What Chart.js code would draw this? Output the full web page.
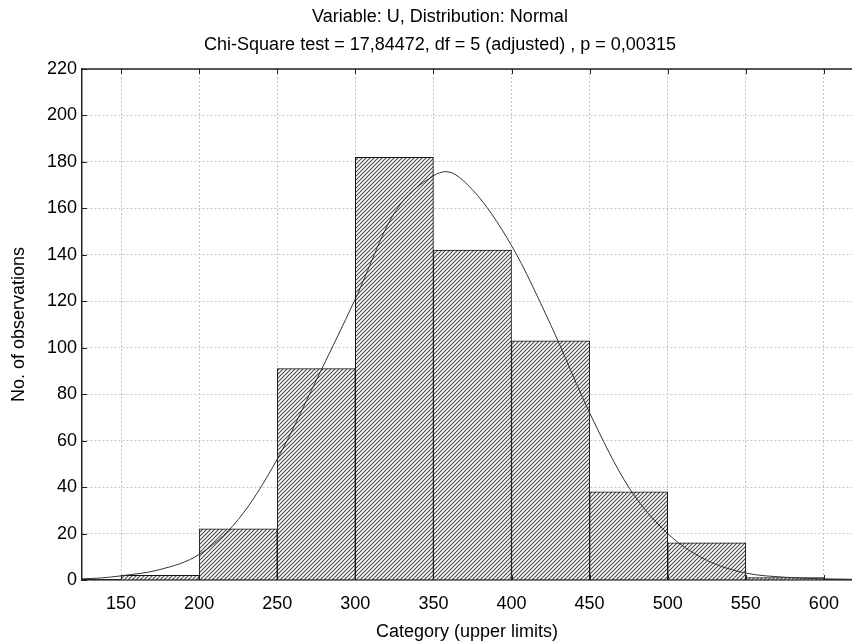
<!DOCTYPE html>
<html>
<head>
<meta charset="utf-8">
<script src="https://cdn.jsdelivr.net/npm/chart.js@4.4.1/dist/chart.umd.min.js"></script>
<style>
  html, body { margin: 0; padding: 0; background: #fff; }
  #wrap { width: 852px; height: 644px; position: relative; }
</style>
</head>
<body>
<div id="wrap"><canvas id="c" width="852" height="644"></canvas></div>
<script>
// ---- data ----
const titleLines = ["Variable: U, Distribution: Normal", "Chi-Square test = 17,84472, df = 5 (adjusted) , p = 0,00315"];
const xAxisTitle = "Category (upper limits)";
const yAxisTitle = "No. of observations";
const binCenters = [175, 225, 275, 325, 375, 425, 475, 525, 575];
const binCounts  = [2, 22, 91, 182, 142, 103, 38, 16, 1];
const curveX = [125, 137.5, 150, 175, 200, 225, 250, 275, 300, 325, 350, 358, 375, 400, 425, 450, 475, 500, 525, 550, 575, 600, 618];
const curveY = [0.5, 0.9, 1.8, 4.5, 11, 26, 52, 86, 121, 158, 174, 175.8, 168, 144, 110, 72, 40, 20, 8.5, 3, 1.2, 0.5, 0.3];
const xTickValues = [150, 200, 250, 300, 350, 400, 450, 500, 550, 600];

const FONT = "'Liberation Sans', Arial, sans-serif";

function makeHatch(ctx) {
  const c = document.createElement('canvas');
  c.width = 4; c.height = 4;
  const g = c.getContext('2d');
  g.fillStyle = '#ffffff';
  g.fillRect(0, 0, 4, 4);
  g.strokeStyle = '#4a4a4a';
  g.lineWidth = 1.1;
  g.beginPath();
  g.moveTo(-1, 5); g.lineTo(5, -1);
  g.moveTo(-1, 1); g.lineTo(1, -1);
  g.moveTo(3, 5); g.lineTo(5, 3);
  g.stroke();
  return ctx.createPattern(c, 'repeat');
}

const canvas = document.getElementById('c');
const ctx = canvas.getContext('2d');
const hatch = makeHatch(ctx);

const framePlugin = {
  id: 'frame',
  afterDatasetsDraw(chart) {
    const { ctx, chartArea: a, scales: { x, y } } = chart;
    ctx.save();
    ctx.strokeStyle = '#222';
    ctx.lineWidth = 1;
    ctx.beginPath();
    xTickValues.forEach(v => {
      const px = Math.round(x.getPixelForValue(v)) + 0.5;
      ctx.moveTo(px, a.bottom); ctx.lineTo(px, a.bottom - 5);
      ctx.moveTo(px, a.top); ctx.lineTo(px, a.top + 5);
    });
    y.ticks.forEach(t => {
      const py = Math.round(y.getPixelForValue(t.value)) + 0.5;
      ctx.moveTo(a.left, py); ctx.lineTo(a.left + 5, py);
    });
    ctx.stroke();
    ctx.lineWidth = 1.5;
    ctx.beginPath();
    ctx.moveTo(a.left, a.top); ctx.lineTo(a.right, a.top);
    ctx.stroke();
    ctx.restore();
  }
};

const titlePlugin = {
  id: 'twoLineTitle',
  afterDraw(chart) {
    const { ctx } = chart;
    ctx.save();
    ctx.fillStyle = '#000';
    ctx.font = '18px ' + FONT;
    ctx.textAlign = 'center';
    ctx.textBaseline = 'middle';
    const cx = 440;
    ctx.fillText(titleLines[0], cx, 17);
    ctx.fillText(titleLines[1], cx, 45);
    ctx.restore();
  }
};

new Chart(ctx, {
  type: 'bar',
  data: {
    datasets: [
      {
        type: 'line',
        data: curveX.map((v, i) => ({ x: v, y: curveY[i] })),
        borderColor: '#333',
        borderWidth: 1,
        pointRadius: 0,
        cubicInterpolationMode: 'monotone',
        fill: false,
        order: 0
      },
      {
        type: 'bar',
        data: binCenters.map((v, i) => ({ x: v, y: binCounts[i] })),
        backgroundColor: hatch,
        borderColor: '#111',
        borderWidth: 1,
        barPercentage: 1,
        categoryPercentage: 1,
        order: 1
      }
    ]
  },
  options: {
    responsive: false,
    animation: false,
    events: [],
    layout: { padding: { top: 69, right: 0, bottom: 0, left: 0 } },
    plugins: { legend: { display: false }, tooltip: { enabled: false }, title: { display: false } },
    scales: {
      x: {
        type: 'linear',
        offset: false,
        min: 125,
        max: 618,
        afterBuildTicks: s => { s.ticks = xTickValues.map(v => ({ value: v })); },
        afterFit: s => { s.height = 64; },
        ticks: { color: '#000', font: { family: FONT, size: 18 }, padding: 13, maxRotation: 0, autoSkip: false },
        grid: { offset: false, color: '#c4c4c4', lineWidth: 1, drawTicks: false },
        border: { color: '#222', width: 1.5, dash: [2, 2] },
        title: { display: true, text: xAxisTitle, color: '#000', font: { family: FONT, size: 18 }, padding: { top: 0, bottom: 1 } }
      },
      y: {
        min: 0,
        max: 220,
        afterFit: s => { s.width = 82; },
        ticks: { stepSize: 20, color: '#000', font: { family: FONT, size: 18 }, padding: 5 },
        grid: { color: '#c4c4c4', lineWidth: 1, drawTicks: false },
        border: { color: '#222', width: 1.5, dash: [2, 2] },
        title: { display: true, text: yAxisTitle, color: '#000', font: { family: FONT, size: 18 }, padding: { top: 8, bottom: 0 } }
      }
    }
  },
  plugins: [framePlugin, titlePlugin]
});
</script>
</body>
</html>
